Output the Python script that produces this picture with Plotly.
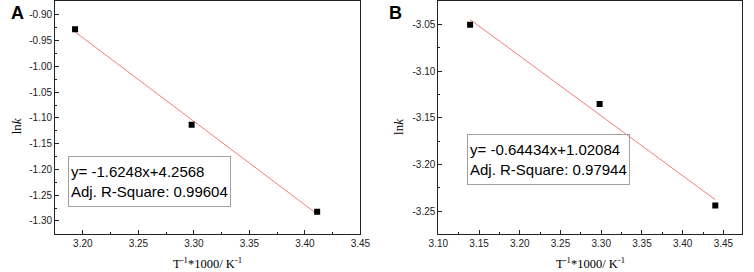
import numpy as np
import plotly.graph_objects as go

# ---- data ----
a_x = [3.193, 3.298, 3.411]
a_y = [-0.928, -1.113, -1.282]
b_x = [3.139, 3.298, 3.440]
b_y = [-3.050, -3.135, -3.244]

a_fit_text = ["y= -1.6248x+4.2568", "Adj. R-Square: 0.99604"]
b_fit_text = ["y= -0.64434x+1.02084", "Adj. R-Square: 0.97944"]

a_xticks = [3.20, 3.25, 3.30, 3.35, 3.40, 3.45]
a_xticklabels = ["3.20", "3.25", "3.30", "3.35", "3.40", "3.45"]
a_yticks = [-0.90, -0.95, -1.00, -1.05, -1.10, -1.15, -1.20, -1.25, -1.30]
a_yticklabels = ["-0.90", "-0.95", "-1.00", "-1.05", "-1.10", "-1.15", "-1.20", "-1.25", "-1.30"]
b_xticks = [3.10, 3.15, 3.20, 3.25, 3.30, 3.35, 3.40, 3.45]
b_xticklabels = ["3.10", "3.15", "3.20", "3.25", "3.30", "3.35", "3.40", "3.45"]
b_yticks = [-3.05, -3.10, -3.15, -3.20, -3.25]
b_yticklabels = ["-3.05", "-3.10", "-3.15", "-3.20", "-3.25"]

x_title = "T<sup>-1</sup>*1000/ K<sup>-1</sup>"
y_title = "ln<i>k</i>"

W, H = 754, 272
def px(x):
    return x / W
def py(y):
    return 1 - y / H

SANS = "Arial, Liberation Sans, sans-serif"
SERIF = "Times New Roman, Liberation Serif, serif"
LINE_COLOR = "#f47c7c"

fig = go.Figure()

def fit_line(xs, ys):
    k, b = np.polyfit(xs, ys, 1)
    xx = np.array([min(xs), max(xs)])
    return xx, k * xx + b

for xs, ys, xa, ya in [(a_x, a_y, "x", "y"), (b_x, b_y, "x2", "y2")]:
    lx, ly = fit_line(xs, ys)
    fig.add_trace(go.Scatter(x=lx, y=ly, mode="lines", xaxis=xa, yaxis=ya,
                             line=dict(color=LINE_COLOR, width=1), showlegend=False,
                             hoverinfo="skip"))
    fig.add_trace(go.Scatter(x=xs, y=ys, mode="markers", xaxis=xa, yaxis=ya,
                             marker=dict(symbol="square", size=6, color="black"),
                             showlegend=False))

def axis(domain, rng, tickvals, ticktext, minor_tick0, anchor):
    return dict(domain=domain, range=rng, anchor=anchor,
                tickmode="array", tickvals=tickvals, ticktext=ticktext,
                ticks="inside", ticklen=4, tickwidth=1, tickcolor="#222",
                minor=dict(ticks="inside", ticklen=2, tickwidth=1, tickcolor="#222",
                           tickmode="linear", tick0=minor_tick0, dtick=0.025),
                showline=True, linecolor="#222", linewidth=1, mirror=True,
                showgrid=False, zeroline=False,
                tickfont=dict(family=SANS, size=10, color="#222"))

ydom = [py(233.7), py(0.5)]
fig.update_layout(
    width=W, height=H,
    margin=dict(l=0, r=0, t=0, b=0),
    paper_bgcolor="white", plot_bgcolor="white",
    xaxis=axis([px(46.3), px(360)], [3.175, 3.45], a_xticks, a_xticklabels, 3.175, "y"),
    yaxis=axis(ydom, [-1.325, -0.874], a_yticks, a_yticklabels, -0.875, "x"),
    xaxis2=axis([px(440), px(751.7)], [3.10, 3.4725], b_xticks, b_xticklabels, 3.125, "y2"),
    yaxis2=axis(ydom, [-3.2745, -3.0251], b_yticks, b_yticklabels, -3.025, "x2"),
)

ann = []
# panel letters
ann.append(dict(text="<b>A</b>", x=px(7.5), y=py(12.5), xref="paper", yref="paper",
                xanchor="center", yanchor="middle", showarrow=False,
                font=dict(family=SANS, size=18, color="black")))
ann.append(dict(text="<b>B</b>", x=px(396), y=py(12), xref="paper", yref="paper",
                xanchor="center", yanchor="middle", showarrow=False,
                font=dict(family=SANS, size=18, color="black")))
# axis titles
for cx in [7.0, 399]:
    ann.append(dict(text=y_title, x=px(cx), y=py(126), xref="paper", yref="paper",
                    xanchor="center", yanchor="middle", showarrow=False, textangle=-90,
                    font=dict(family=SERIF, size=13, color="black")))
for cx in [203, 596]:
    ann.append(dict(text=x_title, x=px(cx), y=0, xref="paper", yref="paper",
                    xanchor="center", yanchor="bottom", showarrow=False, borderpad=0,
                    font=dict(family=SERIF, size=12.5, color="black")))
# fit boxes
for (lx, ty, lines) in [(60, 156, a_fit_text), (469.7, 133.3, b_fit_text)]:
    ann.append(dict(text="<br>".join(lines), x=px(lx), y=py(ty), xref="paper", yref="paper",
                    xanchor="left", yanchor="top", showarrow=False, align="left",
                    valign="middle", width=157, height=45, borderpad=2, borderwidth=1,
                    bordercolor="#a0a0a0", bgcolor="rgba(255,255,255,0)",
                    font=dict(family=SANS, size=15, color="black")))

fig.update_layout(annotations=ann)
fig.write_html("out.html",
               config={"displayModeBar": False},
               post_script="document.body.style.margin='0';document.body.style.overflow='hidden';")
